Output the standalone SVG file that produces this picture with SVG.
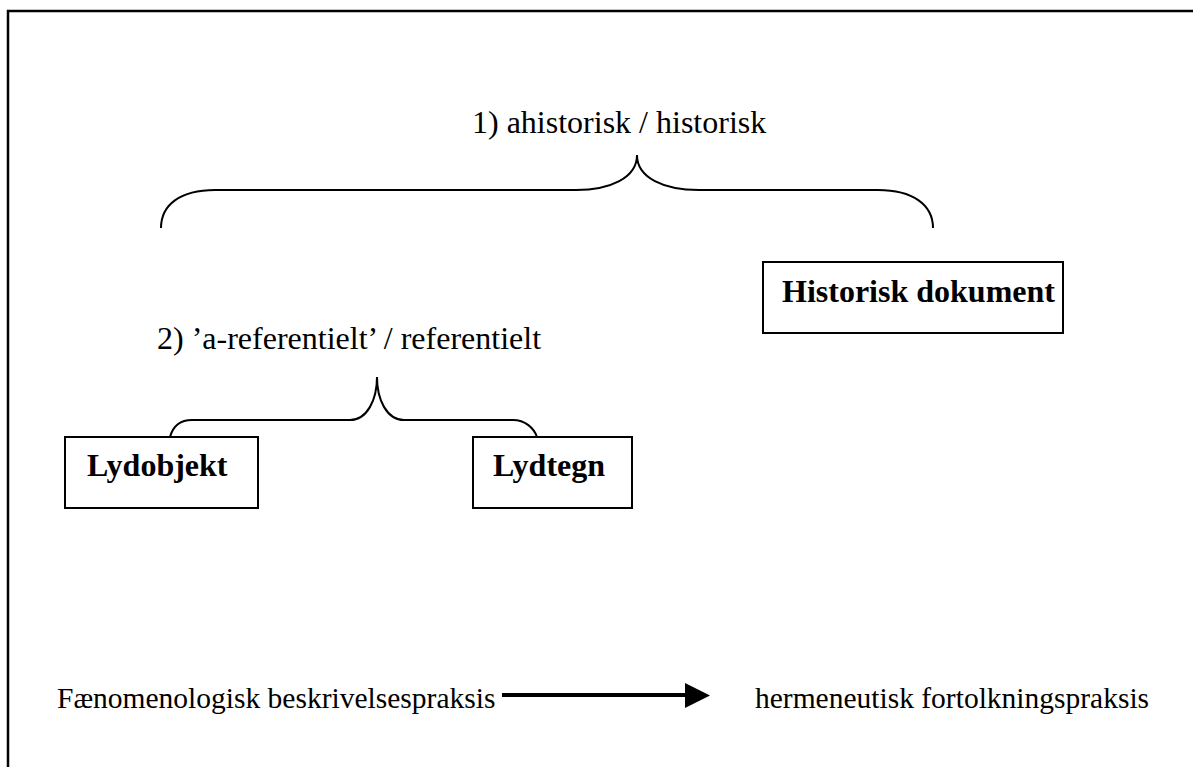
<svg xmlns="http://www.w3.org/2000/svg" width="1193" height="767" viewBox="0 0 1193 767">
<style>
.t{font-family:"Liberation Serif","Times New Roman",serif;fill:#000}
.r{font-size:32px}
.b{font-size:32px;font-weight:bold}
.s{font-size:29.5px}
.box{fill:#fff;stroke:#000;stroke-width:2}
.br{fill:none;stroke:#000;stroke-width:2}
</style>
<rect width="1193" height="767" fill="#fff"/>
<path d="M8,767 L8,11 L1193,11" fill="none" stroke="#000" stroke-width="2.5"/>
<g id="label1"><text class="t r" x="472" y="133">1) ahistorisk / historisk</text></g>
<g id="label2"><text class="t r" x="157" y="349">2) ’a-referentielt’ / referentielt</text></g>
<g id="historisk"><rect class="box" x="763" y="262" width="300" height="71"/><text class="t b" x="782" y="302">Historisk dokument</text></g>
<g id="lydobjekt"><rect class="box" x="65" y="437" width="193" height="71"/><text class="t b" x="87" y="476">Lydobjekt</text></g>
<g id="lydtegn"><rect class="box" x="473" y="437" width="159" height="71"/><text class="t b" x="493" y="476">Lydtegn</text></g>
<g id="bottom-left"><text class="t s" x="57" y="708">Fænomenologisk beskrivelsespraksis</text></g>
<g id="bottom-right"><text class="t s" x="755" y="708">hermeneutisk fortolkningspraksis</text></g>
<g id="connectors">
<path class="br" d="M161,228 C161,205 180,190 215,190 L576,190 C610,190 637,178 637,155 C637,178 664,190 699,190 L878,190 C913,190 933,205 933,228"/>
<path class="br" d="M170,437 C173,426 180,420 192,420 L350,420 C367,420 377,400 377,377 C377,400 387,420 404,420 L513,420 C525,420 534,428 537,437"/>
<line x1="502" y1="695" x2="687" y2="695" stroke="#000" stroke-width="4"/>
<polygon points="685,683 710,695.5 685,708" fill="#000"/>
</g>
</svg>
